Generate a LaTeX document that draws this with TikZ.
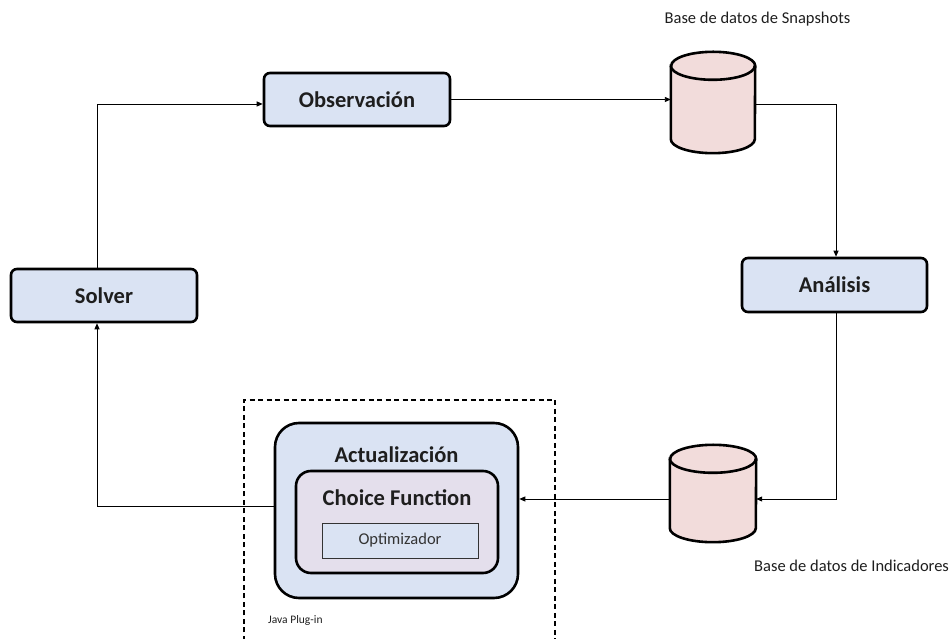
\documentclass[tikz,border=0pt]{standalone}
\usepackage{fontspec}
\setmainfont{Carlito}
\usetikzlibrary{arrows.meta,calc}
\definecolor{boxblue}{RGB}{218,227,243}
\definecolor{dbpink}{RGB}{242,220,219}
\definecolor{lavender}{RGB}{228,223,236}
\definecolor{txt}{RGB}{30,30,30}
\tikzset{
  procbox/.style={draw=black, line width=2.6pt, fill=boxblue, rounded corners=6pt,
    inner sep=0pt, font=\fontsize{22.5}{26}\selectfont\bfseries, text=txt},
  conn/.style={line width=0.9pt, -{Triangle[length=6pt,width=5pt]}},
  dbcyl/.style={draw=black, line width=2.6pt, fill=dbpink},
  note/.style={font=\fontsize{16.5}{19}\selectfont, text=txt, inner sep=0pt},
  heading/.style={font=\fontsize{22.5}{26}\selectfont\bfseries, text=txt},
}
\begin{document}
\begin{tikzpicture}[x=1pt,y=1pt]
\useasboundingbox (0,0) rectangle (952,639);

% process boxes
\node[procbox, minimum width=186, minimum height=53] (sol) at (104,343.5) {Solver};
\node[procbox, minimum width=186, minimum height=53] (obs) at (357,539.5) {Observación};
\node[procbox, minimum width=185, minimum height=54] (ana) at (834.5,354) {Análisis};

% database cylinders (frames used as anchors)
\node[minimum width=84, minimum height=101, inner sep=0pt] (db1) at (713,536.5) {};
\node[minimum width=86, minimum height=97, inner sep=0pt] (db2) at (713,145.5) {};

\foreach \c/\rx in {db1/42, db2/43}{
  \path[dbcyl]
    ($(\c.north west)+(0,-14)$) -- ($(\c.south west)+(0,14)$)
    arc (180:360:\rx pt and 14pt) -- ($(\c.north east)+(0,-14)$)
    arc (0:180:\rx pt and 14pt) -- cycle;
  \draw[line width=2.6pt] ($(\c.north west)+(0,-14)$) arc (180:360:\rx pt and 14pt);
}

\node[note] (lab1) at (757.5,620) {Base de datos de Snapshots};
\node[note, anchor=west] (lab2) at (754,73) {Base de datos de Indicadores};

% plug-in frame (open at the bottom edge)
\coordinate (pl1) at (244,-2);
\coordinate (pl2) at (244,239);
\coordinate (pl3) at (555,239);
\coordinate (pl4) at (555,-2);
\draw[line width=1.1pt, dash pattern=on 5pt off 3.5pt] (pl1) -- (pl2) -- (pl3) -- (pl4);
\node[font=\fontsize{11.5}{13}\selectfont, text=txt, anchor=west, inner sep=0pt] (java) at (268,19) {Java Plug-in};

% Actualización block with nested boxes
\node[draw=black, line width=2.6pt, fill=boxblue, rounded corners=24pt,
  minimum width=243, minimum height=175, inner sep=0pt] (act) at (396.5,128.5) {};
\node[heading] (actl) at (396.5,184) {Actualización};
\node[draw=black, line width=2.6pt, fill=lavender, rounded corners=15pt,
  minimum width=202, minimum height=102, inner sep=0pt] (cf) at (397,117) {};
\node[heading] (cfl) at (397,141) {Choice Function};
\node[draw=black!80, line width=0.8pt, fill=boxblue, minimum width=156, minimum height=35,
  inner sep=0pt, font=\fontsize{16.5}{19}\selectfont, text=black!80] (opt) at (400,98.5) {Optimizador};

% connectors
\draw[conn] ([xshift=-7pt]sol.north) |- ([yshift=-4.5pt]obs.west);
\draw[conn] (obs.east) -- (obs.east -| db1.west);
\draw[conn] ([yshift=-1.5pt]db1.east) -| ([xshift=1.5pt]ana.north);
\draw[conn] ([xshift=1.5pt]ana.south) |- ([yshift=-5.5pt]db2.east);
\draw[conn] ([yshift=-5.5pt]db2.west) -- ([yshift=-5.5pt]db2.west -| act.east);
\draw[conn] ([yshift=4.5pt]act.west) -| ([xshift=-7pt]sol.south);
\end{tikzpicture}
\end{document}
